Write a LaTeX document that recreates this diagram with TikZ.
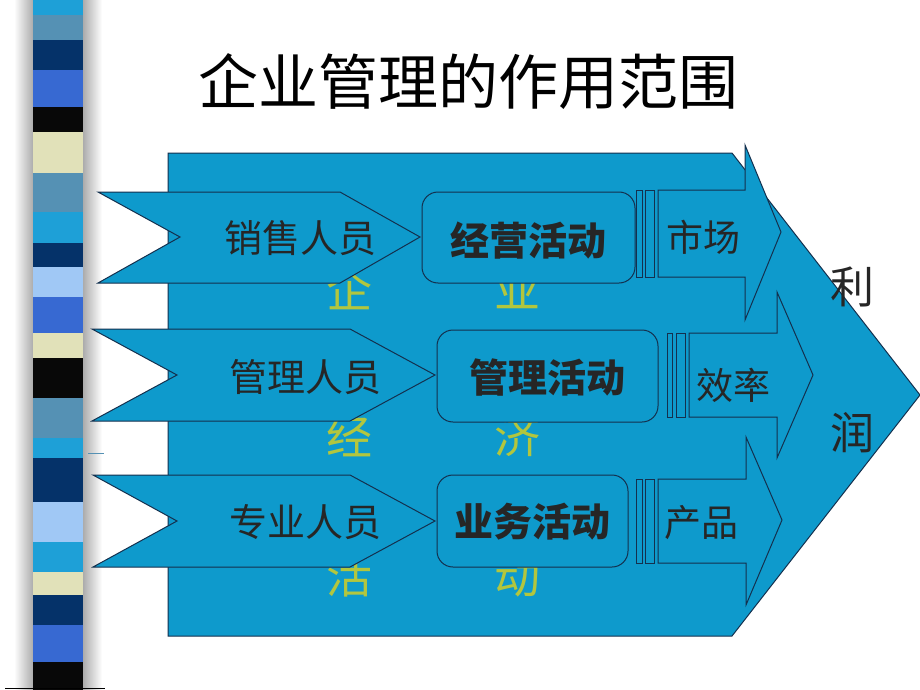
\documentclass[tikz,border=0pt]{standalone}
\usepackage{fontspec}
\newfontfamily\cjk{Noto Sans CJK SC}
\definecolor{fillb}{RGB}{14,154,204}
\definecolor{edgec}{RGB}{20,48,78}
\definecolor{ylw}{RGB}{178,198,62}
\definecolor{scyan}{RGB}{30,160,215}
\definecolor{ssteel}{RGB}{85,145,180}
\definecolor{snavy}{RGB}{5,50,105}
\definecolor{sroyal}{RGB}{55,105,210}
\definecolor{sblack}{RGB}{8,8,8}
\definecolor{sbeige}{RGB}{225,225,185}
\definecolor{slight}{RGB}{160,200,245}
\begin{document}
\begin{tikzpicture}[x=1pt,y=-1pt,
  shp/.style={fill=fillb,draw=edgec,line width=1pt,line join=miter},
  ttl/.style={font=\cjk\fontsize{60}{64}\selectfont,inner sep=0pt},
  plab/.style={font=\cjk\fontsize{38}{42}\selectfont,inner sep=0pt,text=black!85},
  blab/.style={font=\cjk\bfseries\fontsize{39}{43}\selectfont,inner sep=0pt,text=black!85},
  rlab/.style={font=\cjk\fontsize{37}{41}\selectfont,inner sep=0pt,text=black!85},
  ylab/.style={font=\cjk\fontsize{46}{50}\selectfont,inner sep=0pt,text=ylw},
  plab2/.style={font=\cjk\fontsize{44}{48}\selectfont,inner sep=0pt,text=black!85}]
\useasboundingbox (0,0) rectangle (920,690);
\fill[white] (0,0) rectangle (920,690);
% left decorative stripe bar
\shade[left color=white,right color=gray!65] (14,0) rectangle (33,690);
\shade[left color=gray!65,right color=white] (83,0) rectangle (102,690);
\foreach \a/\b/\c in {0/15/scyan,15/40/ssteel,40/70/snavy,70/107/sroyal,107/132/sblack,132/173/sbeige,173/212/ssteel,212/243/scyan,243/267/snavy,267/297/slight,297/333/sroyal,333/358/sbeige,358/398/sblack,398/438/ssteel,438/458/scyan,458/502/snavy,502/542/slight,542/572/scyan,572/595/sbeige,595/625/snavy,625/662/sroyal,662/690/sblack}
  \fill[\c] (33,\a) rectangle (83,\b);
\coordinate (bl1) at (5,688);
\coordinate (bl2) at (105,688);
\draw[black,line width=0.8pt] (bl1) -- (bl2);
\coordinate (ml1) at (88,453);
\coordinate (ml2) at (104,453);
\draw[ssteel,line width=0.8pt] (ml1) -- (ml2);
% title
\node[ttl] (title) at (468,82) {企业管理的作用范围};
% big pentagon
\draw[shp] (168,153) -- (732,153) -- (920,395) -- (732,636) -- (168,636) -- cycle;
% faint yellow letters
\node[ylab] (y1) at (349,289) {企};
\node[ylab] (y2) at (517,289) {业};
\node[ylab] (y3) at (349,436) {经};
\node[ylab] (y4) at (517,436) {济};
\node[ylab] (y5) at (349,576) {活};
\node[ylab] (y6) at (517,576) {动};
% chevrons
\draw[shp] (98,192) -- (340,192) -- (420,237) -- (340,283) -- (98,283) -- (180,237) -- cycle;
\draw[shp] (92,329) -- (350,329) -- (435,375) -- (350,421) -- (92,421) -- (177,375) -- cycle;
\draw[shp] (93,475) -- (350,475) -- (435,521) -- (350,567) -- (93,567) -- (177,521) -- cycle;
% rounded boxes
\draw[shp,rounded corners=16pt] (422,192) rectangle (635,283);
\draw[shp,rounded corners=16pt] (437,330) rectangle (658,422);
\draw[shp,rounded corners=16pt] (437,475) rectangle (628,567);
% striped arrows
\draw[shp] (636,190) rectangle (642,277);
\draw[shp] (645,190) rectangle (654,277);
\draw[shp] (658,190) -- (745,190) -- (745,145) -- (781,232) -- (745,320) -- (745,277) -- (658,277) -- cycle;
\draw[shp] (667,333) rectangle (672,417);
\draw[shp] (676,333) rectangle (685,417);
\draw[shp] (689,333) -- (777,333) -- (777,292) -- (813,375) -- (777,458) -- (777,417) -- (689,417) -- cycle;
\draw[shp] (636,479) rectangle (642,563);
\draw[shp] (645,479) rectangle (654,563);
\draw[shp] (658,479) -- (746,479) -- (746,437) -- (782,520) -- (746,605) -- (746,563) -- (658,563) -- cycle;
% labels
\node[plab] (p1) at (300,238) {销售人员};
\node[plab] (p2) at (305,377) {管理人员};
\node[plab] (p3) at (305,522) {专业人员};
\node[blab] (a1) at (528,241) {经营活动};
\node[blab] (a2) at (547,378) {管理活动};
\node[blab] (a3) at (532,522) {业务活动};
\node[rlab] (r1) at (703,237) {市场};
\node[rlab] (r2) at (733,385) {效率};
\node[rlab] (r3) at (701,523) {产品};
\node[plab2] (li) at (852,287) {利};
\node[plab2] (run) at (852,433) {润};
\end{tikzpicture}
\end{document}
